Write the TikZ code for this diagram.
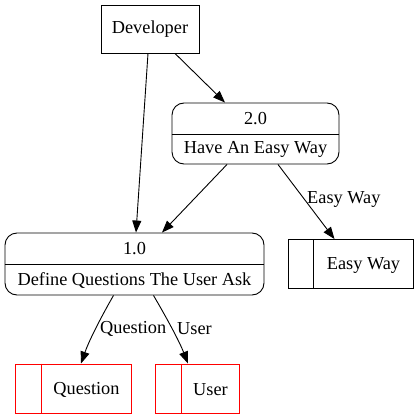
\documentclass[tikz,border=0pt]{standalone}
\usepackage{fontspec}
\setmainfont{Liberation Serif}
\usetikzlibrary{arrows.meta}
\begin{document}
\begin{tikzpicture}[x=1pt,y=-1pt,
  every node/.style={font=\fontsize{18.3}{22}\selectfont, inner sep=0pt},
  ext/.style={draw, line width=0.9pt, minimum width=98pt, minimum height=48pt},
  proc/.style={draw, line width=0.9pt, rounded corners=12pt},
  store/.style={draw, line width=0.9pt, minimum height=49pt},
  flow/.style={line width=0.9pt, -{Triangle[length=12pt,width=9pt]}},
  lbl/.style={fill=white, inner sep=1pt}
]
\useasboundingbox[fill=white] (0,0) rectangle (419,419);
% external entity
\node[ext] (dev) at (150,29) {Developer};
% processes
\node[proc, minimum width=167pt, minimum height=61pt] (p2) at (255.5,133.5) {};
\draw[line width=0.9pt] (p2.west |- 0,134) coordinate (p2l) -- (p2.east |- 0,134) coordinate (p2r);
\node (p2id) at (255.5,119) {2.0};
\node (p2t) at (255.5,149.5) {Have An Easy Way};
\node[proc, minimum width=259pt, minimum height=62pt] (p1) at (134.5,264) {};
\draw[line width=0.9pt] (p1.west |- 0,264.5) coordinate (p1l) -- (p1.east |- 0,264.5) coordinate (p1r);
\node (p1id) at (134.5,249) {1.0};
\node (p1t) at (134.5,280.5) {Define Questions The User Ask};
% stores
\node[store, minimum width=125pt] (easy) at (350.5,264) {};
\draw[line width=0.9pt] (easy.north west) ++(26,0) coordinate (ea) -- (ea |- easy.south) coordinate (eb);
\node (easyt) at (363.5,265) {Easy Way};
\node[store, draw=red, minimum width=116pt] (q) at (73,388.5) {};
\draw[line width=0.9pt, red] (q.north west) ++(27,0) coordinate (qa) -- (qa |- q.south) coordinate (qb);
\node (qt) at (86.5,389.5) {Question};
\node[store, draw=red, minimum width=84pt] (u) at (197,388.5) {};
\draw[line width=0.9pt, red] (u.north west) ++(27,0) coordinate (ua) -- (ua |- u.south) coordinate (ub);
\node (ut) at (210.5,389.5) {User};
% flows
\draw[flow] ([xshift=-2pt]dev.south) -- ([xshift=1.5pt]p1.north);
\draw[flow] ([xshift=25pt]dev.south) -- ([xshift=-30.5pt]p2.north);
\draw[flow] ([xshift=-28.5pt]p2.south) -- ([xshift=27.5pt]p1.north);
\draw[flow] ([xshift=22.5pt]p2.south) -- ([xshift=-16pt]easy.north);
\node[anchor=west] (lEasy) at (307,199) {Easy Way};
\draw[flow] ([xshift=-21pt]p1.south) .. controls (104,312) and (90,338) .. ([xshift=8pt]q.north);
\draw[flow] ([xshift=19pt]p1.south) .. controls (162,310) and (178,338) .. ([xshift=-9pt]u.north);
\node[anchor=west] (lQ) at (100,329) {Question};
\node[anchor=west] (lU) at (177,329) {User};
\end{tikzpicture}
\end{document}
